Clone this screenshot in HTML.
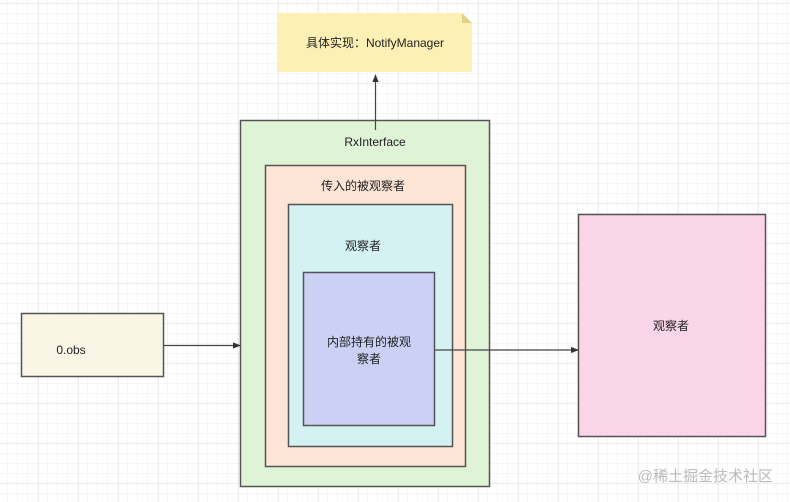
<!DOCTYPE html>
<html><head><meta charset="utf-8"><style>
html,body{margin:0;padding:0;background:#fff;}
svg{display:block;}
text{font-family:"Liberation Sans","Noto Sans CJK SC",sans-serif;font-size:12px;fill:#222;}
</style></head><body>
<svg width="790" height="502" viewBox="0 0 790 502" xmlns="http://www.w3.org/2000/svg">
<defs>
<pattern id="g" width="10" height="10" patternUnits="userSpaceOnUse" x="7" y="3">
<path d="M10 0H0V10" fill="none" stroke="#ececec" stroke-width="1"/>
</pattern>
<pattern id="G" width="40" height="40" patternUnits="userSpaceOnUse" x="-2" y="3">
<path d="M40 0H0V40" fill="none" stroke="#dedede" stroke-width="1"/>
</pattern>
<marker id="a" viewBox="0 0 10 10" refX="9" refY="5" markerWidth="8" markerHeight="8" orient="auto" markerUnits="userSpaceOnUse"><path d="M0 1L10 5L0 9z" fill="#333"/></marker>
</defs>
<rect width="790" height="502" fill="url(#g)"/>
<rect width="790" height="502" fill="url(#G)"/>
<!-- note -->
<path d="M277 13H462L472 23V72H277Z" fill="#fdf0b4"/>
<path d="M462 13V23H472Z" fill="#e3d08a"/>
<text x="375" y="47" text-anchor="middle">具体实现：NotifyManager</text>
<!-- boxes -->
<rect x="240.5" y="120.5" width="249" height="366" fill="#dff3d6" stroke="#555" stroke-width="1.5"/>
<text x="375" y="146" text-anchor="middle">RxInterface</text>
<rect x="265.5" y="165.5" width="200" height="301" fill="#fde5d6" stroke="#555" stroke-width="1.5"/>
<text x="363" y="190" text-anchor="middle">传入的被观察者</text>
<rect x="288.5" y="204.5" width="164" height="242" fill="#d4f2f1" stroke="#555" stroke-width="1.5"/>
<text x="363" y="250" text-anchor="middle">观察者</text>
<rect x="303.5" y="272.5" width="131" height="153" fill="#cbd0f4" stroke="#555" stroke-width="1.5"/>
<text x="369" y="346" text-anchor="middle">内部持有的被观</text>
<text x="369" y="363" text-anchor="middle">察者</text>
<rect x="578.5" y="214.5" width="187" height="222" fill="#fbd5e8" stroke="#555" stroke-width="1.5"/>
<text x="671" y="330" text-anchor="middle">观察者</text>
<rect x="21.5" y="313.5" width="142" height="63" fill="#faf6e6" stroke="#555" stroke-width="1.5"/>
<text x="71" y="354" text-anchor="middle">0.obs</text>
<!-- arrows -->
<line x1="164" y1="345.5" x2="240" y2="345.5" stroke="#444" stroke-width="1.2" marker-end="url(#a)"/>
<line x1="435" y1="350" x2="578" y2="350" stroke="#444" stroke-width="1.2" marker-end="url(#a)"/>
<line x1="375.5" y1="130" x2="375.5" y2="75" stroke="#444" stroke-width="1.2" marker-end="url(#a)"/>
<text x="773" y="481" text-anchor="end" style="font-size:15px;fill:#bbb">@稀土掘金技术社区</text>
</svg>
</body></html>
